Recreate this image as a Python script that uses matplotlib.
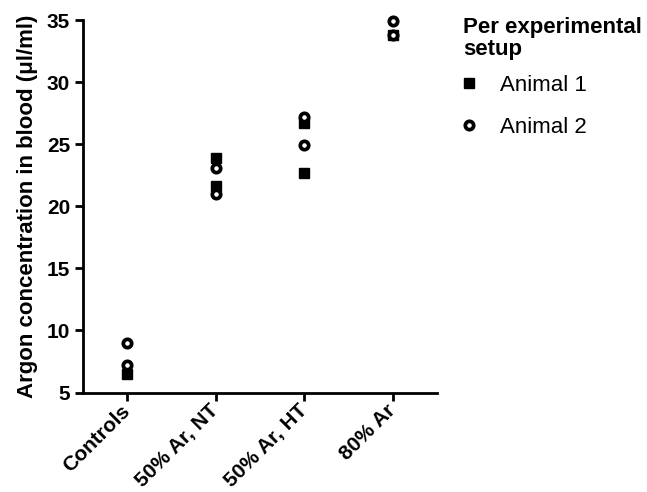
import matplotlib
matplotlib.use("Agg")
import matplotlib.pyplot as plt
import numpy as np

plt.rcParams['font.family'] = ['Liberation Sans', 'DejaVu Sans']

# data
categories = ["Controls", "50% Ar, NT", "50% Ar, HT", "80% Ar"]
animal1 = [[6.5], [23.9, 21.6], [26.7, 22.7], [33.8]]
animal2 = [[9.0, 7.2], [23.1, 21.0], [27.2, 24.9], [34.9, 33.8]]
series_names = ["Animal 1", "Animal 2"]
legend_title = "Per experimental\nsetup"
yticks = [5, 10, 15, 20, 25, 30, 35]

fig = plt.figure(figsize=(6.47, 4.92), dpi=100)
ax = fig.add_axes([0.1278, 0.2022, 0.5476, 0.7571])

def flat(groups):
    xs, ys = [], []
    for i, g in enumerate(groups):
        xs += [i] * len(g)
        ys += list(g)
    return np.array(xs), np.array(ys)

x1, y1 = flat(animal1)
x2, y2 = flat(animal2)
h1, = ax.plot(x1, y1, linestyle="None", marker="s", ms=7, color="black",
              label=series_names[0], clip_on=False)
h2, = ax.plot(x2, y2, linestyle="None", marker="o", ms=6, mew=2.7,
              mfc="white", mec="black", label=series_names[1], clip_on=False)

ax.set_xlim(-0.5, 3.5)
ax.set_ylim(5, 35)
ax.set_yticks(yticks)
ax.set_xticks(range(len(categories)))
ax.set_xticklabels(categories, rotation=45, ha="right", va="center",
                   rotation_mode="anchor", fontsize=15, fontweight="bold")
for lab in ax.get_yticklabels():
    lab.set_fontsize(15)
    lab.set_fontweight("bold")
ax.tick_params(axis="both", width=2, length=6, color="black", pad=3)
ax.tick_params(axis="x", pad=5)

for side in ["top", "right"]:
    ax.spines[side].set_visible(False)
for side in ["left", "bottom"]:
    ax.spines[side].set_linewidth(2)

ax.set_ylabel("Argon concentration in blood (\u03bcl/ml)", fontsize=16,
              fontweight="bold", labelpad=6)

# legend title as separate text so the gap to the entries matches
fig.text(0.7156, 0.966, legend_title, fontsize=16, fontweight="bold",
         ha="left", va="top", linespacing=1.1)
leg = fig.legend(handles=[h1, h2], loc="upper left",
                 bbox_to_anchor=(0.702, 0.866), frameon=False,
                 fontsize=16, handlelength=0.55, handletextpad=1.1,
                 labelspacing=0.95, borderaxespad=0.0)

fig.savefig("out.png", dpi=100)
